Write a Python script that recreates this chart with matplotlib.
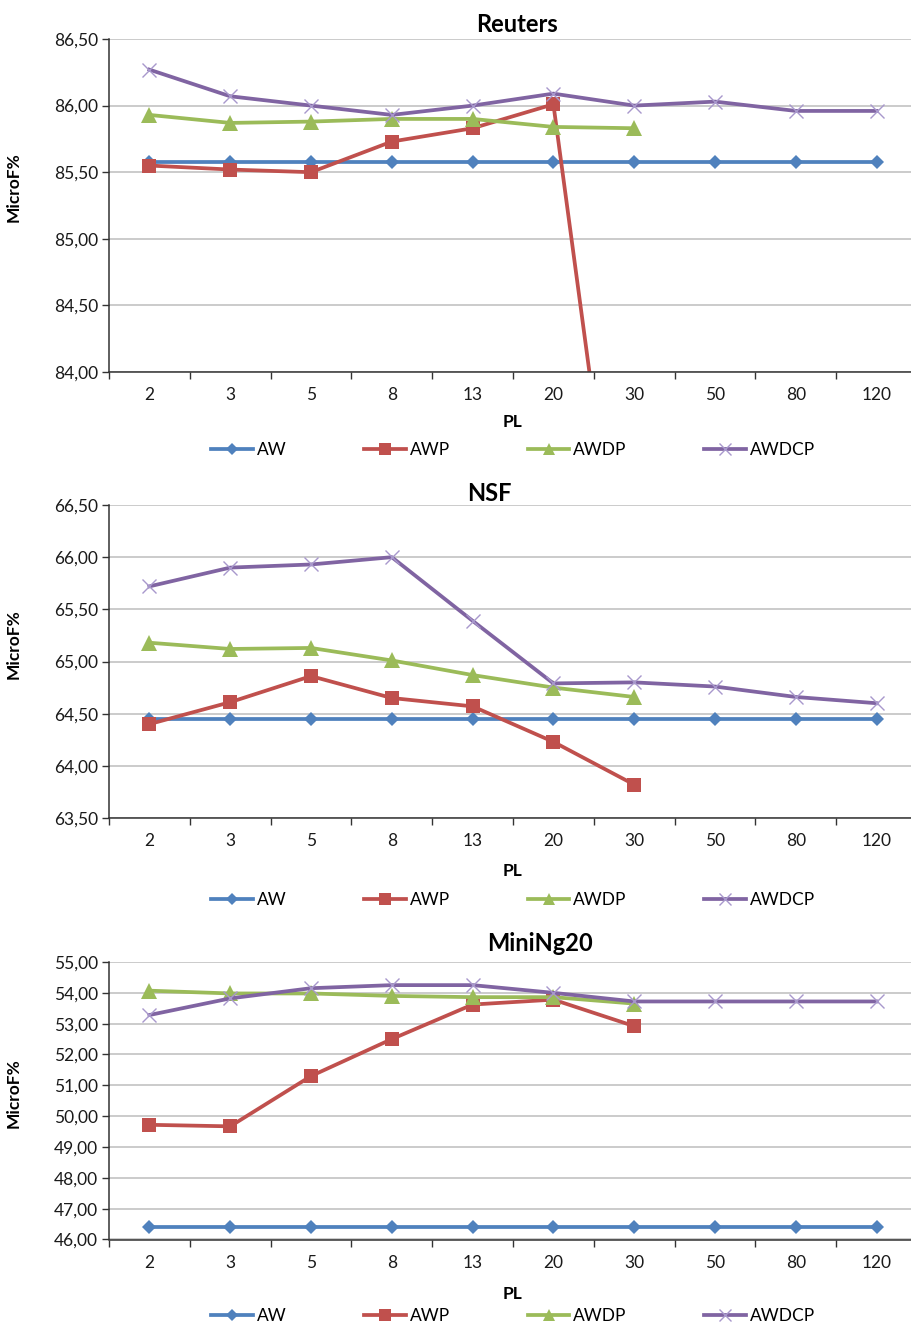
import matplotlib.pyplot as plt
from matplotlib.ticker import FuncFormatter, MultipleLocator

plt.rcParams["font.family"] = ["Lato", "DejaVu Sans"]

pl_labels = ["2", "3", "5", "8", "13", "20", "30", "50", "80", "120"]
series_names = ["AW", "AWP", "AWDP", "AWDCP"]

# Reuters
reuters_aw = [85.58, 85.58, 85.58, 85.58, 85.58, 85.58, 85.58, 85.58, 85.58, 85.58]
reuters_awp = [85.55, 85.52, 85.50, 85.73, 85.83, 86.01, 81.50]
reuters_awdp = [85.93, 85.87, 85.88, 85.90, 85.90, 85.84, 85.83]
reuters_awdcp = [86.27, 86.07, 86.00, 85.93, 86.00, 86.09, 86.00, 86.03, 85.96, 85.96]

# NSF
nsf_aw = [64.45, 64.45, 64.45, 64.45, 64.45, 64.45, 64.45, 64.45, 64.45, 64.45]
nsf_awp = [64.40, 64.61, 64.86, 64.65, 64.57, 64.23, 63.82]
nsf_awdp = [65.18, 65.12, 65.13, 65.01, 64.87, 64.75, 64.66]
nsf_awdcp = [65.72, 65.90, 65.93, 66.00, 65.39, 64.79, 64.80, 64.76, 64.66, 64.60]

# MiniNg20
mini_aw = [46.42, 46.42, 46.42, 46.42, 46.42, 46.42, 46.42, 46.42, 46.42, 46.42]
mini_awp = [49.72, 49.67, 51.30, 52.50, 53.62, 53.78, 52.92]
mini_awdp = [54.07, 53.98, 53.98, 53.90, 53.86, 53.86, 53.65]
mini_awdcp = [53.28, 53.82, 54.15, 54.25, 54.25, 54.00, 53.72, 53.72, 53.72, 53.72]

colors = ["#4F81BD", "#C0504D", "#9BBB59", "#8064A2"]
styles = [
    dict(marker="D", markersize=7.5, markeredgewidth=0),
    dict(marker="s", markersize=10, markeredgewidth=0),
    dict(marker="^", markersize=11, markeredgewidth=0),
    dict(marker="x", markersize=10, markeredgewidth=1.0, markeredgecolor="#a898cc"),
]

W, H = 912, 1326


def panel(fig, top, bottom, title, title_x, title_base, data, ylim, ystep,
          ylabel_y, pl_y, legend_y):
    left, right = 109, 917
    ax = fig.add_axes([left / W, 1 - bottom / H, (right - left) / W, (bottom - top) / H])
    for name, vals, c, st in zip(series_names, data, colors, styles):
        ax.plot(range(len(vals)), vals, color=c, lw=2.7, label=name, **st)

    ax.set_xlim(-0.5, len(pl_labels) - 0.5)
    ax.set_ylim(*ylim)
    ax.set_xticks(range(len(pl_labels)))
    ax.set_xticklabels(pl_labels)
    ax.set_xticks([i - 0.5 for i in range(len(pl_labels) + 1)], minor=True)
    ax.tick_params(axis="x", which="major", length=0, pad=11, labelsize=12.5, colors="#1a1a1a")
    ax.tick_params(axis="x", which="minor", length=5, width=1, direction="out", color="#333333")
    ax.yaxis.set_major_locator(MultipleLocator(ystep))
    ax.yaxis.set_major_formatter(FuncFormatter(lambda v, p: f"{v:.2f}".replace(".", ",")))
    ax.tick_params(axis="y", length=5, width=1, direction="out", pad=3, labelsize=12.5,
                   color="#333333", labelcolor="#1a1a1a")
    ax.grid(axis="y", color="#bdbdbd", lw=1.1)
    ax.set_axisbelow(True)
    for s in ["top", "right"]:
        ax.spines[s].set_visible(False)
    for s in ["left", "bottom"]:
        ax.spines[s].set_color("#333333")
        ax.spines[s].set_linewidth(1.1)

    h = bottom - top
    ax.set_ylabel("MicroF%", fontsize=12.5, fontweight="bold")
    ax.yaxis.set_label_coords((22 - left) / (right - left), (bottom - ylabel_y) / h)
    ax.set_xlabel("PL", fontsize=12.5, fontweight="bold")
    ax.xaxis.set_label_coords(0.5, (bottom - pl_y) / h)
    ax.xaxis.label.set_va("center")

    fig.text(title_x / W, 1 - title_base / H, title, ha="center", va="baseline",
             fontsize=17, fontweight="bold")

    ax.legend(loc="center", bbox_to_anchor=(0.5, (bottom - legend_y) / h), ncol=4,
              frameon=False, fontsize=12.5, handlelength=2.4, handletextpad=0.2,
              columnspacing=4.5, markerscale=0.8)
    return ax


fig = plt.figure(figsize=(W / 100, H / 100), dpi=100)
fig.patch.set_facecolor("white")

panel(fig, 39, 372, "Reuters", 517, 32,
      [reuters_aw, reuters_awp, reuters_awdp, reuters_awdcp],
      (84.0, 86.5), 0.5, 187, 422, 450)
panel(fig, 505, 818, "NSF", 489, 501,
      [nsf_aw, nsf_awp, nsf_awdp, nsf_awdcp],
      (63.5, 66.5), 0.5, 644, 871, 900)
panel(fig, 962, 1239.5, "MiniNg20", 540, 951,
      [mini_aw, mini_awp, mini_awdp, mini_awdcp],
      (46.0, 55.0), 1.0, 1093, 1294, 1316)

fig.savefig("out.png", dpi=100)
